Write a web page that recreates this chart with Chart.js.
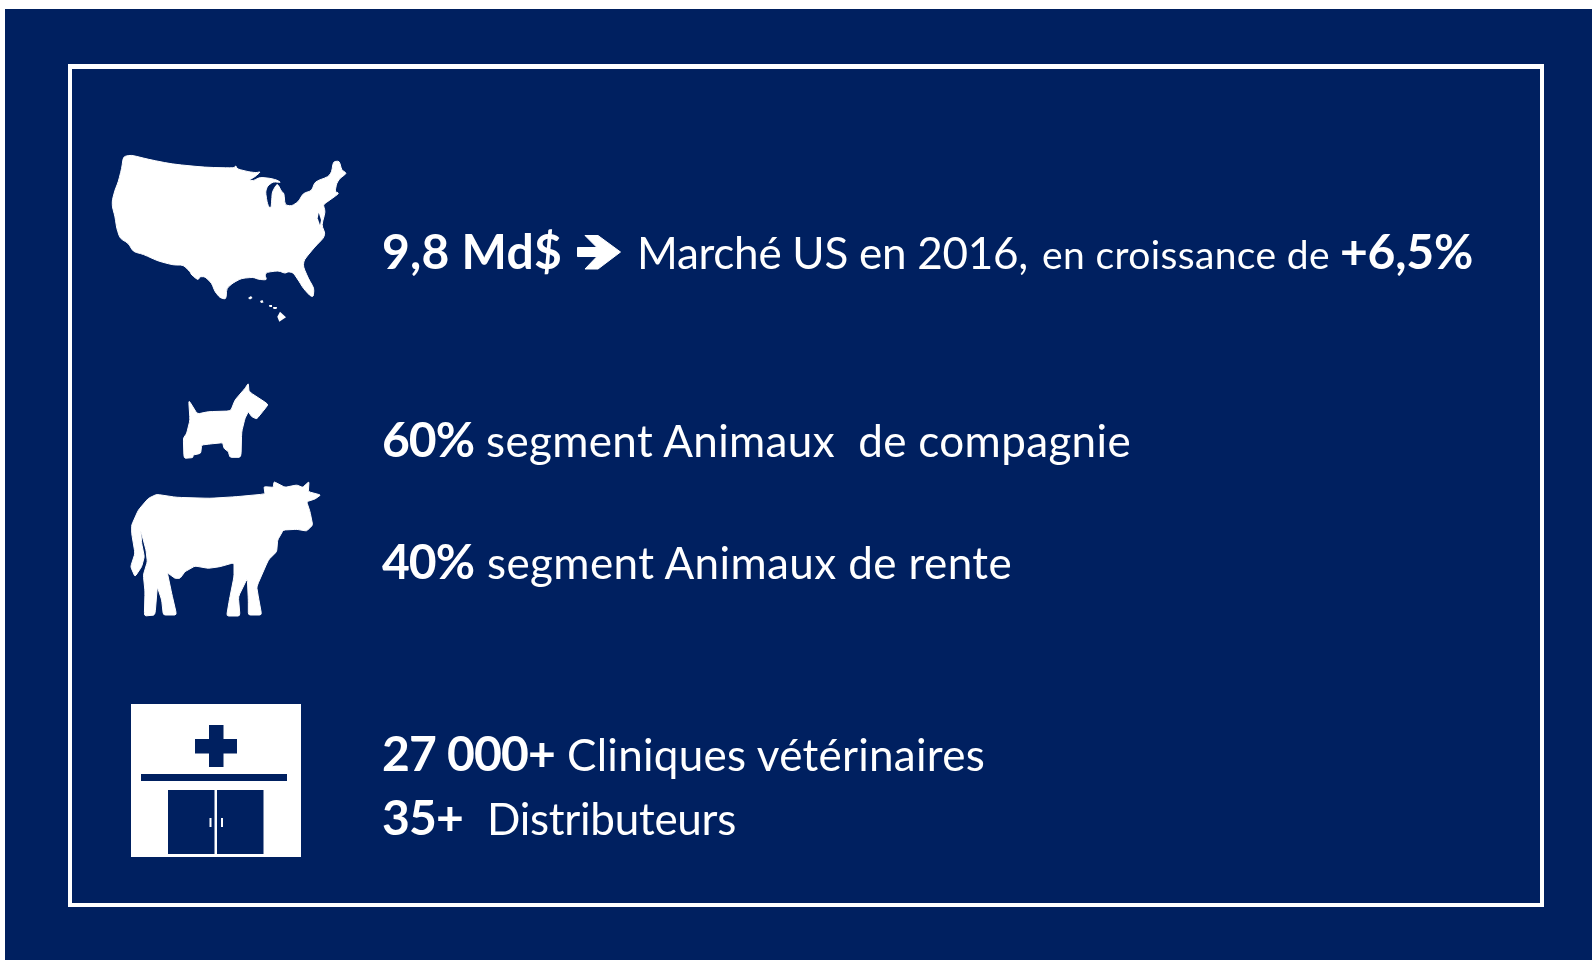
<!DOCTYPE html>
<html lang="fr">
<head>
<meta charset="utf-8">
<title>Marché vétérinaire US</title>
<style>html,body{margin:0;padding:0;background:#fff;overflow:hidden}canvas{display:block}</style>
<script src="https://cdn.jsdelivr.net/npm/chart.js@4/dist/chart.umd.min.js"></script>
</head>
<body>
<canvas id="c" width="1592" height="960"></canvas>
<script>
// ---- content -------------------------------------------------------------
const categories = ["Marché US", "Animaux de compagnie", "Animaux de rente", "Cliniques", "Distributeurs"];
const boldLabels = ["9,8 Md$", "60%", "40%", "27 000+", "35+"];
const captions = ["segment Animaux  de compagnie", "segment Animaux de rente", "Cliniques vétérinaires", "Distributeurs"];
const marketCaption = "Marché US en 2016,";
const growthCaption = "en croissance de";
const growthLabel = "+6,5%";

// ---- layout and style, kept apart from the content ------------------------
const NAVY = "#002060", WHITE = "#ffffff", FONT = "Lato, Carlito, sans-serif";
const segments = [
  {t: boldLabels[0], x: 382, end: 562, y: 269, size: 48, bold: true},
  {t: marketCaption, x: 637, end: 1028, y: 269, size: 44},
  {t: growthCaption, x: 1042, end: 1330, y: 269, size: 39},
  {t: growthLabel, x: 1340, end: 1473, y: 269, size: 48, bold: true},
  {t: boldLabels[1], x: 382, end: 474, y: 457, size: 48, bold: true},
  {t: captions[0], x: 486, end: 1131, y: 457, size: 44},
  {t: boldLabels[2], x: 382, end: 474, y: 579, size: 48, bold: true},
  {t: captions[1], x: 487, end: 1012, y: 579, size: 44},
  {t: boldLabels[3], x: 382, end: 555, y: 771, size: 48, bold: true},
  {t: captions[2], x: 567, end: 985, y: 771, size: 44},
  {t: boldLabels[4], x: 382, end: 463, y: 835, size: 48, bold: true},
  {t: captions[3], x: 487, end: 736, y: 835, size: 44}
];

// silhouettes, as outlines in page pixels
const usaOutline = [123.3,156.7,131,155,148.3,159.3,171.7,164,205,167.3,234.3,168,235.7,165.5,237.3,169,248.3,171.7,256,172.7,260.7,171.7,255,176.7,249,180,253.3,180.7,260,177.3,270,178.3,276.7,180,281,182.5,273.3,181.7,267.5,186,265.5,191.7,267,201.7,268.8,207.3,271.2,207.3,271.7,200,272.3,191.7,277.3,183.3,281.7,191.7,284,193.3,285,205,291.7,206,298.3,201.7,303.3,193.3,311.7,190.7,315,181.7,328.3,176.7,331.7,171.7,333.3,161.7,339.3,161,341.7,170,346.7,173.3,340,178.3,336.7,183.3,335,191.7,339.3,193.3,326,202.7,323.3,205,325.3,211.7,321.7,225,325,233.3,323.3,238.3,315,246.7,304,260,303.3,266.7,308.3,278.3,314,288.3,313.3,296.7,310,295.7,303.3,288.3,299.3,281.7,293.3,272.7,288.3,271.7,285,273.3,278.3,270.7,266.7,272.3,265,275,266.7,280,258.3,279.3,253.3,277.3,241.7,278.3,233.3,282.7,226.7,288.3,226,299.3,220,297.7,215,291.7,211.7,283.3,205,276.7,200,276.7,198,280,191.7,275,190,271.7,183.3,265,173.3,265,158,261,143.3,254.3,133.3,251.7,128.3,243.3,120,238.3,116.7,228.3,115,216.7,112.3,206.7,112.3,200,115,190,118.3,181.7,121.7,168.3];
const usaIslands = [[248,298,251,296,252.5,298,250,299.5],[260,301,262.5,300,263.5,302.5,261,303],[269,305,272,305,272,307,269.5,307],[273,307,277,307,276.5,309,273.5,309],[280,311.7,286,317.3,279.3,321.7,277.3,316.7]];
const usaBay = [318.7,212.7,321,220,320,225,317.7,218.3];
const dogOutline = [236,90,262,132,295,125,362,123,375,90,405,55,415,40,417,65,475,103,462,120,440,147,425,140,415,125,405,145,395,185,393,262,360,262,355,245,342,235,338,218,300,222,275,225,272,250,250,255,248,263,222,265,220,205,230,190,240,150].map((v,i)=> i%2 ? 370+v/3 : 110+v/3);
const cowOutline = [65,465,85,420,115,385,140,373,200,382,300,385,380,380,465,372,462,350,490,352,492,335,525,352,560,345,578,352,597,335,595,365,632,375,615,387,590,395,600,425,608,465,590,483,560,478,520,480,503,510,500,545,475,570,440,650,445,680,455,735,415,735,415,690,412,625,385,680,390,738,350,738,358,690,372,620,372,578,330,590,295,595,255,588,225,605,210,625,195,625,172,608,185,670,200,735,160,735,155,690,142,650,135,735,103,738,105,665,100,615,112,575,108,540,92,480,95,520,103,560,95,590,75,620,62,590,75,550,65,490].map((v,i)=> i%2 ? 370+v/3 : 110+v/3);

function tracePoly(g, p, ox, oy) {
  g.moveTo(p[0]-ox, p[1]-oy);
  for (let i = 2; i < p.length; i += 2) g.lineTo(p[i]-ox, p[i+1]-oy);
  g.closePath();
}
// rounded variant for the silhouettes: corners become short curves
const traceRounded = k => (g, p, ox, oy) => {
  const n = p.length/2;
  const at = i => [p[(i%n)*2]-ox, p[(i%n)*2+1]-oy];
  for (let i = 0; i < n; i++) {
    const a = at(i), b = at(i+1), c = at(i+2);
    const s = [b[0]+(a[0]-b[0])*k, b[1]+(a[1]-b[1])*k];
    const e = [b[0]+(c[0]-b[0])*k, b[1]+(c[1]-b[1])*k];
    if (i === 0) g.moveTo(s[0], s[1]); else g.lineTo(s[0], s[1]);
    g.quadraticCurveTo(b[0], b[1], e[0], e[1]);
  }
  g.closePath();
};
// each icon is a small canvas used as the point style of one point
function makeIcon(x0, y0, x1, y1, paint) {
  const cv = document.createElement("canvas");
  cv.width = x1-x0; cv.height = y1-y0;
  const g = cv.getContext("2d");
  paint(g, x0, y0);
  return {cv, cx: (x0+x1)/2, cy: (y0+y1)/2};
}
const fillPolys = (g, polys, ox, oy, col, trace = tracePoly) => {
  g.fillStyle = col; g.strokeStyle = col; g.lineJoin = "round"; g.lineWidth = 1;
  polys.forEach(p => { g.beginPath(); trace(g, p, ox, oy); g.fill(); g.stroke(); });
};
const icons = [
  makeIcon(106, 150, 352, 326, (g,x,y) => {
    fillPolys(g, [usaOutline], x, y, WHITE, traceRounded(0.3));
    g.fillStyle = WHITE;
    usaIslands.forEach(p => { g.beginPath(); tracePoly(g, p, x, y); g.fill(); });
    g.fillStyle = NAVY; g.beginPath(); tracePoly(g, usaBay, x, y); g.fill();
  }),
  makeIcon(176, 376, 276, 464, (g,x,y) => fillPolys(g, [dogOutline], x, y, WHITE, traceRounded(0.18))),
  makeIcon(124, 476, 326, 622, (g,x,y) => fillPolys(g, [cowOutline], x, y, WHITE, traceRounded(0.15))),
  makeIcon(130, 703, 302, 858, (g,x,y) => {
    const r = (c,a,b,w,h) => { g.fillStyle = c; g.fillRect(a-x,b-y,w,h); };
    r(WHITE,131,704,170,153);
    r(NAVY,209,725,14.5,42); r(NAVY,195,739,42,14.5);
    r(NAVY,141,774,146,7);
    r(NAVY,168,790,46.5,64); r(NAVY,217,790,46.5,64);
    r(WHITE,209.5,818,2,9); r(WHITE,221,818,2,9);
  }),
  // the arrow of the first row
  makeIcon(576, 232, 622, 272, (g,x,y) => fillPolys(g, [[577.5,247.5,597,247.5,585,235.5,598,235.5,620.5,252,598,269,585,269,597,256.5,577.5,256.5]], x, y, WHITE))
];

const framePlugin = {
  id: "frame",
  beforeDraw(ch) {
    const g = ch.ctx;
    g.save();
    g.fillStyle = WHITE; g.fillRect(0,0,1592,960);
    g.fillStyle = NAVY; g.fillRect(5,9,1587,951);
    g.fillStyle = WHITE; g.fillRect(68,64,1476,843);
    g.fillStyle = NAVY; g.fillRect(72,69,1468,834);
    g.restore();
  },
  afterDatasetsDraw(ch) {
    const g = ch.ctx, xs = ch.scales.x, ys = ch.scales.y;
    g.save();
    g.fillStyle = WHITE; g.textBaseline = "alphabetic"; g.textAlign = "left";
    g.fontKerning = "normal";
    segments.forEach(s => {
      g.font = (s.bold ? "700 " : "400 ") + s.size + "px " + FONT;
      g.letterSpacing = "0px";
      const w = g.measureText(s.t).width;
      g.letterSpacing = ((s.end - s.x - w) / s.t.length).toFixed(3) + "px";
      g.fillText(s.t, xs.getPixelForValue(s.x), ys.getPixelForValue(s.y));
    });
    g.restore();
  }
};

new Chart(document.getElementById("c"), {
  type: "scatter",
  data: {
    labels: categories,
    datasets: [{
      data: icons.map(i => ({x: i.cx, y: i.cy})),
      pointStyle: icons.map(i => i.cv),
      pointRadius: 10,
      pointHoverRadius: 10
    }]
  },
  options: {
    responsive: false,
    animation: false,
    devicePixelRatio: 1,
    layout: {padding: 0, autoPadding: false},
    plugins: {legend: {display: false}, tooltip: {enabled: false}},
    scales: {
      x: {type: "linear", min: 0, max: 1592, display: false},
      y: {type: "linear", min: 0, max: 960, reverse: true, display: false}
    }
  },
  plugins: [framePlugin]
});
</script>
</body>
</html>
